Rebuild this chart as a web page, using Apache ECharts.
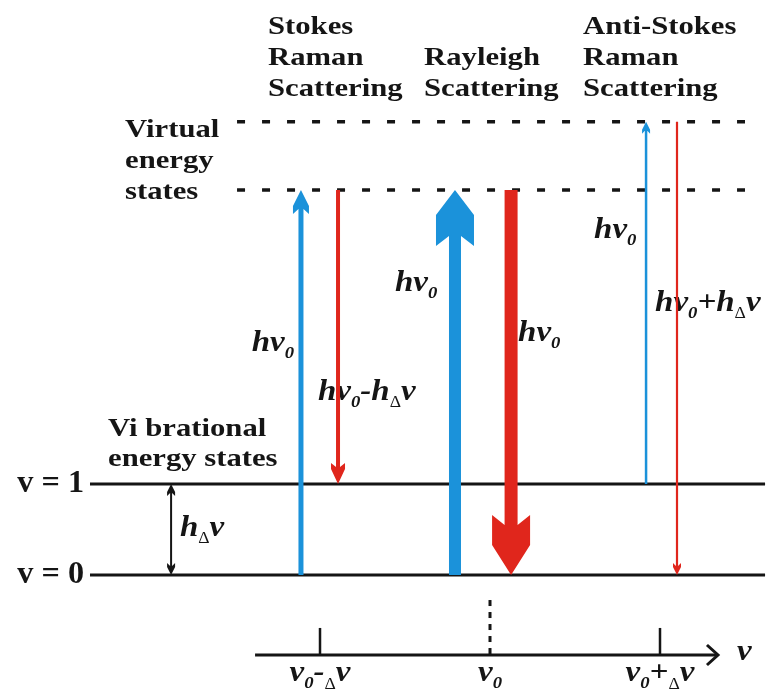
<!DOCTYPE html>
<html>
<head>
<meta charset="utf-8">
<script src="https://cdn.jsdelivr.net/npm/echarts@6/dist/echarts.min.js"></script>
<style>
  html, body { margin: 0; padding: 0; background: #ffffff; }
  #chart { width: 784px; height: 695px; }
</style>
</head>
<body>
<div id="chart"></div>
<script>
// ---------------- data (energy in units of hΔν, frequency in units of Δν from ν0) ----------------
const levelNames = ['v = 0', 'v = 1'];
const levelEnergy = [0, 1];
const virtualEnergy = [4.23, 4.98];
const processNames = ['Stokes\nRaman\nScattering', 'Rayleigh\nScattering', 'Anti-Stokes\nRaman\nScattering'];
const transitionNames = ['Stokes excitation', 'Stokes emission', 'Rayleigh excitation',
                         'Rayleigh emission', 'Anti-Stokes excitation', 'Anti-Stokes emission'];
const transitionNu = [-1.112, -0.894, -0.206, 0.124, 0.918, 1.100];
const transitionFrom = [levelEnergy[0], virtualEnergy[0], levelEnergy[0], virtualEnergy[0], levelEnergy[1], virtualEnergy[1]];
const transitionTo = [virtualEnergy[0], levelEnergy[1], virtualEnergy[0], levelEnergy[0], virtualEnergy[1], levelEnergy[0]];
const transitionLabels = ['hv{s|0}', 'hv{s|0}-h{d|Δ}v', 'hv{s|0}', 'hv{s|0}', 'hv{s|0}', 'hv{s|0}+h{d|Δ}v'];
const gapLabel = 'h{d|Δ}v';
const nuTicks = [-1, 0, 1];
const nuTickLabels = ['v{s|0}-{d|Δ}v', 'v{s|0}', 'v{s|0}+{d|Δ}v'];
const nuAxisName = 'v';
const virtualLabel = 'Virtual\nenergy\nstates';
const vibrationalLabel = 'Vi brational\nenergy states';

// ---------------- layout & style ----------------
const C = { blue: '#1b92da', red: '#e0261c', ink: '#151515' };
const SERIF = '"Liberation Serif", "Times New Roman", serif';
const L = {
  xMin: -2.8824, xMax: 1.7294, yMin: -1.3187, yMax: 6.3187,
  levelSpan: [-2.353, 1.618],
  virtualSpan: [-1.488, 1.50],
  gapX: -1.876,
  nuAxisY: -0.879, nuAxisSpan: [-1.382, 1.341], tickTop: -0.582, centerTop: -0.275,
  processX: [-1.306, -0.388, 0.547], processBottom: 5.170,
  virtualText: [-2.147, 4.038], vibText: [-2.247, 1.110],
  levelTextX: -2.388,
  transLabelPos: [[-1.153, 2.549, 'right'], [-1.012, 2.011, 'left'], [-0.559, 3.209, 'left'],
                  [0.165, 2.659, 'left'], [0.612, 3.791, 'left'], [0.971, 2.989, 'left']],
  gapLabelPos: [-1.824, 0.516],
  nuLabelY: -1.082, nuNamePos: [1.453, -0.846]
};
const arrowStyles = [
  { color: C.blue, shaft: 5,   head: 16, shoulder: 16, back: 24, notch: 19 },
  { color: C.red,  shaft: 4,   head: 14, shoulder: 15, back: 21, notch: 17 },
  { color: C.blue, shaft: 12,  head: 38, shoulder: 25, back: 56, notch: 46 },
  { color: C.red,  shaft: 13,  head: 38, shoulder: 30, back: 60, notch: 50 },
  { color: C.blue, shaft: 2.5, head: 8,  shoulder: 8,  back: 12, notch: 9 },
  { color: C.red,  shaft: 2.2, head: 8,  shoulder: 8,  back: 12, notch: 9 }
];
const gapArrowStyle = { color: C.ink, shaft: 2, head: 8, shoulder: 8, back: 12, notch: 9 };

const richItalic = {
  s: { fontFamily: SERIF, fontSize: 17, fontStyle: 'italic', fontWeight: 'bold', lineHeight: 16, verticalAlign: 'bottom', fill: C.ink },
  d: { fontFamily: SERIF, fontSize: 16, fontStyle: 'normal', fontWeight: 'normal', lineHeight: 28, verticalAlign: 'bottom', fill: C.ink }
};

// ---------------- helpers ----------------
function arrowPoints(S, T, st, twoHeads) {
  const dx = T[0] - S[0], dy = T[1] - S[1], len = Math.hypot(dx, dy);
  const d = [dx / len, dy / len], n = [-d[1], d[0]];
  const P = (b, a, s) => [b[0] + d[0] * a + n[0] * s, b[1] + d[1] * a + n[1] * s];
  const hw = st.shaft / 2, W = st.head / 2;
  const head = [P(T, -st.notch, hw), P(T, -st.back, W), P(T, -st.shoulder, W), T,
                P(T, -st.shoulder, -W), P(T, -st.back, -W), P(T, -st.notch, -hw)];
  const tail = twoHeads
    ? [P(S, st.notch, -hw), P(S, st.back, -W), P(S, st.shoulder, -W), S,
       P(S, st.shoulder, W), P(S, st.back, W), P(S, st.notch, hw)]
    : [P(S, 0, -hw), P(S, 0, hw)];
  return tail.slice(-1).concat(head, tail.slice(0, -1));
}

function textEl(p, text, style, scaleX) {
  return {
    type: 'text', x: p[0], y: p[1], scaleX: scaleX == null ? 1.18 : scaleX, silent: true,
    style: Object.assign({
      text: text, fill: C.ink, fontFamily: SERIF, fontWeight: 'bold', fontSize: 26,
      align: 'left', verticalAlign: 'middle'
    }, style)
  };
}
const italicStyle = (align) => ({ fontStyle: 'italic', fontSize: 30, lineHeight: 38, align: align, rich: richItalic });

// annotations (text) list
const annotations = [];
processNames.forEach((t, i) => annotations.push({ pos: [L.processX[i], L.processBottom], text: t,
  style: { lineHeight: 31, verticalAlign: 'bottom' } }));
annotations.push({ pos: L.virtualText, text: virtualLabel, style: { lineHeight: 31, verticalAlign: 'bottom' } });
annotations.push({ pos: L.vibText, text: vibrationalLabel, style: { lineHeight: 30, verticalAlign: 'bottom' } });
levelNames.forEach((t, i) => annotations.push({ pos: [L.levelTextX, levelEnergy[i]], text: t,
  style: { fontSize: 31, align: 'right' }, scaleX: 1.04 }));
transitionLabels.forEach((t, i) => annotations.push({ pos: [L.transLabelPos[i][0], L.transLabelPos[i][1]], text: t,
  style: italicStyle(L.transLabelPos[i][2]), scaleX: 1.1 }));
annotations.push({ pos: L.gapLabelPos, text: gapLabel, style: italicStyle('left'), scaleX: 1.1 });
nuTickLabels.forEach((t, i) => annotations.push({ pos: [nuTicks[i], L.nuLabelY], text: t,
  style: italicStyle('center'), scaleX: 1.1 }));
annotations.push({ pos: L.nuNamePos, text: nuAxisName, style: italicStyle('left'), scaleX: 1.1 });

// ---------------- chart ----------------
const chart = echarts.init(document.getElementById('chart'), null, { renderer: 'canvas' });
const option = {
  backgroundColor: '#ffffff',
  animation: false,
  grid: { left: 0, right: 0, top: 0, bottom: 0, containLabel: false },
  xAxis: { type: 'value', min: L.xMin, max: L.xMax, show: false },
  yAxis: { type: 'value', min: L.yMin, max: L.yMax, show: false },
  series: [
    { // texts
      type: 'custom', name: 'annotations', clip: false, silent: true, z: 1,
      data: annotations.map(a => a.pos),
      renderItem: (params, api) => {
        const a = annotations[params.dataIndex];
        return textEl(api.coord([api.value(0), api.value(1)]), a.text, a.style, a.scaleX);
      }
    },
    { // vibrational levels
      type: 'custom', name: 'vibrational levels', clip: false, silent: true, z: 2,
      data: levelEnergy.map(e => [e]),
      renderItem: (params, api) => {
        const e = api.value(0);
        const a = api.coord([L.levelSpan[0], e]), b = api.coord([L.levelSpan[1], e]);
        return { type: 'line', shape: { x1: a[0], y1: a[1], x2: b[0], y2: b[1] },
                 style: { stroke: C.ink, lineWidth: 3 } };
      }
    },
    { // virtual states
      type: 'custom', name: 'virtual states', clip: false, silent: true, z: 2,
      data: virtualEnergy.map(e => [e]),
      renderItem: (params, api) => {
        const e = api.value(0);
        const a = api.coord([L.virtualSpan[0], e]), b = api.coord([L.virtualSpan[1], e]);
        return { type: 'line', shape: { x1: a[0], y1: a[1], x2: b[0], y2: b[1] },
                 style: { stroke: C.ink, lineWidth: 3.5, lineDash: [8, 17] } };
      }
    },
    { // frequency axis
      type: 'custom', name: 'frequency axis', clip: false, silent: true, z: 2,
      data: nuTicks.map(v => [v]),
      renderItem: (params, api) => {
        const v = api.value(0);
        const base = api.coord([v, L.nuAxisY]);
        const children = [];
        if (v === 0) {
          const top = api.coord([v, L.centerTop]);
          children.push({ type: 'line', shape: { x1: top[0], y1: top[1], x2: base[0], y2: base[1] },
                          style: { stroke: C.ink, lineWidth: 3, lineDash: [6, 6] } });
        } else {
          const top = api.coord([v, L.tickTop]);
          children.push({ type: 'line', shape: { x1: top[0], y1: top[1], x2: base[0], y2: base[1] },
                          style: { stroke: C.ink, lineWidth: 2.5 } });
        }
        if (params.dataIndex === 0) {
          const a = api.coord([L.nuAxisSpan[0], L.nuAxisY]), b = api.coord([L.nuAxisSpan[1], L.nuAxisY]);
          children.push({ type: 'line', shape: { x1: a[0], y1: a[1], x2: b[0], y2: b[1] },
                          style: { stroke: C.ink, lineWidth: 3 } });
          children.push({ type: 'polyline', shape: { points: [[b[0] - 11, b[1] - 10], [b[0], b[1]], [b[0] - 11, b[1] + 10]] },
                          style: { stroke: C.ink, lineWidth: 3, fill: null } });
        }
        return { type: 'group', children: children };
      }
    },
    { // hΔν gap arrow
      type: 'custom', name: 'vibrational gap', clip: false, silent: true, z: 3,
      data: [[L.gapX, levelEnergy[0], levelEnergy[1]]],
      renderItem: (params, api) => {
        const S = api.coord([api.value(0), api.value(1)]), T = api.coord([api.value(0), api.value(2)]);
        return { type: 'polygon', shape: { points: arrowPoints(S, T, gapArrowStyle, true) },
                 style: { fill: gapArrowStyle.color } };
      }
    },
    { // transitions
      type: 'custom', name: 'transitions', clip: false, silent: true, z: 4,
      dimensions: ['nu', 'from', 'to'],
      data: transitionNu.map((x, i) => [x, transitionFrom[i], transitionTo[i]]),
      renderItem: (params, api) => {
        const st = arrowStyles[params.dataIndex];
        const S = api.coord([api.value(0), api.value(1)]), T = api.coord([api.value(0), api.value(2)]);
        return { type: 'polygon', shape: { points: arrowPoints(S, T, st, false) }, style: { fill: st.color } };
      }
    }
  ]
};
chart.setOption(option);
</script>
</body>
</html>
